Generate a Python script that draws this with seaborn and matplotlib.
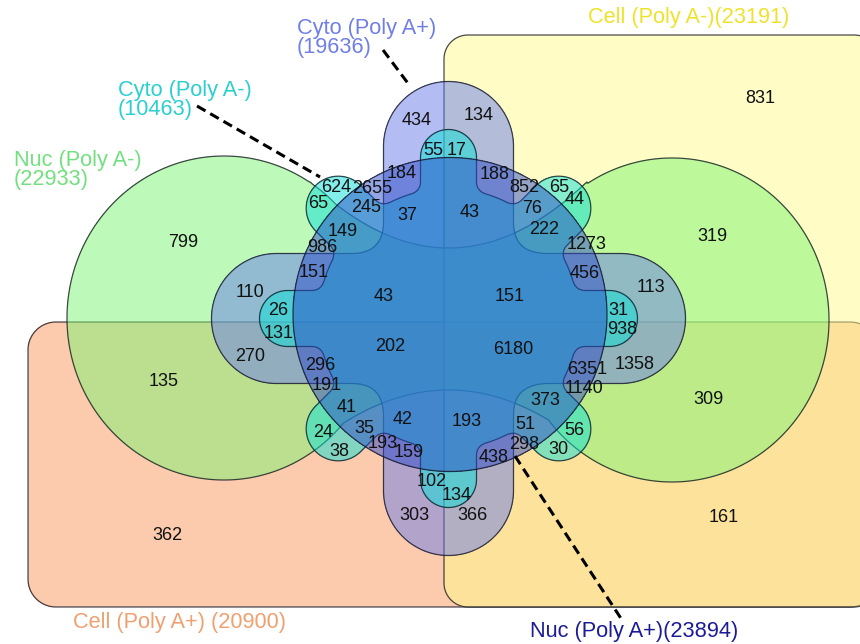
import numpy as np
import matplotlib
matplotlib.use("Agg")
import matplotlib.pyplot as plt
import seaborn as sns

# ---------------- data ----------------
set_names = ["Cell (Poly A+)", "Cell (Poly A-)", "Nuc (Poly A-)",
             "Cyto (Poly A+)", "Cyto (Poly A-)", "Nuc (Poly A+)"]
set_sizes = [20900, 23191, 22933, 19636, 10463, 23894]
set_label_sep = [" ", "", "\n", "\n", "\n", ""]

region_counts = [434, 134, 55, 17, 184, 188, 852, 65, 44, 624, 2655, 65, 245, 37,
                 43, 76, 222, 149, 986, 1273, 456, 113, 31, 938, 319, 151, 6180,
                 6351, 1358, 1140, 373, 51, 56, 298, 30, 438, 193, 42, 41, 191, 24,
                 35, 38, 193, 159, 102, 134, 303, 366, 296, 202, 43, 110, 26, 131,
                 270, 151, 799, 135, 362, 309, 161, 831]

# ---------------- layout (pixel space) ----------------
count_xy = [(417, 120), (479, 115), (433, 150), (457, 150), (402, 173), (495, 174),
            (524, 187), (559, 187), (575, 199), (336, 187), (372, 188), (318, 203),
            (366, 207), (407, 215), (470, 212), (532, 208), (544, 229), (343, 231),
            (322, 247), (587, 244), (585, 273), (651, 287), (618, 310), (622, 329),
            (712, 236), (510, 296), (513, 349), (587, 369), (635, 364), (584, 388),
            (545, 400), (525, 424), (574, 430), (524, 444), (558, 449), (494, 457),
            (467, 421), (403, 419), (347, 407), (327, 385), (323, 432), (364, 428),
            (339, 451), (383, 443), (409, 452), (432, 481), (457, 495), (414, 515),
            (472, 515), (320, 365), (390, 346), (384, 296), (250, 292), (278, 310),
            (279, 333), (250, 356), (314, 272), (183, 242), (164, 381), (167, 536),
            (708, 399), (724, 517), (760, 98)]

set_label_xy = [(73, 612), (588, 7), (14, 150), (297, 18), (118, 80), (530, 621)]
set_label_colors = ["#f0a070", "#eee32a", "#72e07e", "#6f7fe6", "#2ccfcf", "#1b1b96"]
fill_colors = ["#FB975B", "#FFFB8D", "#7DF573", "#697DEB", "#0AE1D7", "#2D4BC8"]

leaders = [((383, 50), (410, 86)), ((197, 106), (320, 177)), ((515, 456), (622, 620))]

W, H = 860, 644
C = (448.5, 318.5)          # centre of the cog shapes
CIRC = (450.0, 314.5, 157)  # Nuc (Poly A+) circle

sns.set_theme(style="white")
plt.rcParams["font.family"] = ["Liberation Sans", "DejaVu Sans"]

fig = plt.figure(figsize=(W / 100, H / 100), dpi=100)
ax = fig.add_axes([0, 0, 1, 1])
ax.set_xlim(0, W)
ax.set_ylim(H, 0)
ax.axis("off")

xs = np.arange(0, W + 1, 1.0)
ys = np.arange(0, H + 1, 1.0)
X, Y = np.meshgrid(xs, ys)


def sd_round_rect(x0, x1, y0, y1, r):
    cx, cy = (x0 + x1) / 2, (y0 + y1) / 2
    hx, hy = (x1 - x0) / 2 - r, (y1 - y0) / 2 - r
    qx = np.abs(X - cx) - hx
    qy = np.abs(Y - cy) - hy
    return np.hypot(np.maximum(qx, 0), np.maximum(qy, 0)) + np.minimum(np.maximum(qx, qy), 0) - r


def sd_capsule(ax_, ay_, bx, by, r):
    pax, pay = X - ax_, Y - ay_
    bax, bay = bx - ax_, by - ay_
    h = np.clip((pax * bax + pay * bay) / (bax * bax + bay * bay), 0, 1)
    return np.hypot(pax - bax * h, pay - bay * h) - r


def smin(a, b, k):
    h = np.clip(0.5 + 0.5 * (b - a) / k, 0, 1)
    return b * (1 - h) + a * h - k * h * (1 - h)


def sd_ellipse(cx, cy, a, b):
    return (np.sqrt(((X - cx) / a) ** 2 + ((Y - cy) / b) ** 2) - 1) * min(a, b)


# Cell (Poly A+): bottom rectangle
f_orange = sd_round_rect(28, 878, 322, 607, 28)
# Cell (Poly A-): right rectangle
f_yellow = sd_round_rect(444, 878, 35, 607, 24)
# Nuc (Poly A-): two lobes joined by a pinched band
fl = sd_ellipse(224, 318, 157, 162)
fr = sd_ellipse(672, 320, 157, 162)
y_top = 248 - 0.00345 * (X - 448.5) ** 2
y_bot = 390 + 0.0030 * (X - 448.5) ** 2
f_band = np.maximum.reduce([y_top - Y, Y - y_bot, 310 - X, X - 587])
f_green = np.minimum.reduce([fl, fr, f_band])
# Cyto (Poly A+): four lobes
f_purple = None
for ang in [90, 180, 270, 0]:
    dx, dy = np.cos(np.radians(ang)), -np.sin(np.radians(ang))
    L = 237 - 65
    d = sd_capsule(C[0], C[1], C[0] + L * dx, C[1] + L * dy, 65)
    f_purple = d if f_purple is None else smin(f_purple, d, 32)
# Cyto (Poly A-): eight teeth
f_cyan = np.hypot(X - C[0], Y - C[1]) - 130
for i in range(8):
    ang = i * 45
    hw, end = (28, 189) if i % 2 == 0 else (32, 188)
    dx, dy = np.cos(np.radians(ang)), -np.sin(np.radians(ang))
    L = end - hw
    d = sd_capsule(C[0], C[1], C[0] + L * dx, C[1] + L * dy, hw)
    f_cyan = smin(f_cyan, d, 10)
# Nuc (Poly A+): circle
f_circle = np.hypot(X - CIRC[0], Y - CIRC[1]) - CIRC[2]

fields = [f_orange, f_yellow, f_green, f_purple, f_cyan, f_circle]
for i, (F, col) in enumerate(zip(fields, fill_colors)):
    ax.contourf(X, Y, F, levels=[-1e6, 0], colors=[col], alpha=0.5, zorder=2 + i)
    ax.contour(X, Y, F, levels=[0], colors=[(0.05, 0.05, 0.1, 0.75)],
               linewidths=0.9, zorder=2.5 + i)

for n, (x, y) in zip(region_counts, count_xy):
    ax.text(x, y, str(n), ha="center", va="center", fontsize=13,
            color="#111111", zorder=20)

for name, size, sep, (x, y), col in zip(set_names, set_sizes, set_label_sep,
                                        set_label_xy, set_label_colors):
    ax.text(x, y, f"{name}{sep}({size})", ha="left", va="top", fontsize=15.7,
            color=col, linespacing=0.88, zorder=21)

for (p0, p1) in leaders:
    ax.plot([p0[0], p1[0]], [p0[1], p1[1]], color="black", lw=2.2,
            dashes=(3.2, 1.8), zorder=22, solid_capstyle="butt")

fig.savefig("out.png", dpi=100, facecolor="white")
